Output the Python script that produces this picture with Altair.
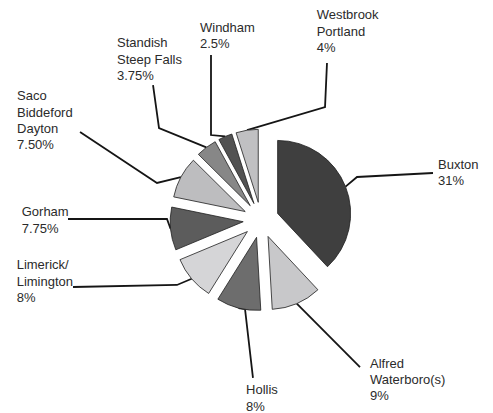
import math
import altair as alt
import pandas as pd

# ---- data -------------------------------------------------------------
names = ["Buxton", "Alfred Waterboro(s)", "Hollis", "Limerick/Limington", "Gorham",
         "Saco Biddeford Dayton", "Standish Steep Falls", "Windham", "Westbrook Portland"]
labels = ["Buxton\n31%", "Alfred\nWaterboro(s)\n9%", "Hollis\n8%", "Limerick/\nLimington\n8%",
          "Gorham\n7.75%", "Saco\nBiddeford\nDayton\n7.50%", "Standish\nSteep Falls\n3.75%",
          "Windham\n2.5%", "Westbrook\nPortland\n4%"]
values = [31, 9, 8, 8, 7.75, 7.5, 3.75, 2.5, 4]

# ---- styles / layout --------------------------------------------------
colors = ["#3f3f3f", "#c8c8ca", "#6d6d6d", "#d5d5d7", "#5c5c5c",
          "#bdbdbf", "#878787", "#525252", "#c0c0c2"]
W, H = 477, 405          # whole drawing area
CX, CY, R = 253, 212, 73  # pie centre and radius (pixels)
EXPLODE = 0.245          # slice offset, in radius units

# label anchors (radius units, y up, relative to pie centre)
label_pos = [(2.425, 0.705), (1.493, -2.021), (-0.205, -2.390), (-3.347, -0.678),
             (-3.278, 0.048), (-3.342, 1.640), (-1.973, 2.366), (-0.836, 2.582),
             (0.763, 2.747)]
# leader elbows and ends (radius units)
leader_elbow = [(1.315, 0.589), None, (-0.219, -1.219), (-1.151, -0.890),
                (-1.288, 0.014), (-1.425, 0.507), (-1.397, 1.260), (-0.685, 1.164),
                (0.877, 1.548)]
leader_end = [(2.356, 0.644), (1.356, -2.014), (-0.110, -2.164), (-2.575, -0.918),
              (-2.644, 0.014), (-2.479, 1.205), (-1.479, 1.849), (-0.685, 2.260),
              (0.904, 2.151)]

# ---- derived geometry -------------------------------------------------
total = sum(values)
rows, lines, texts = [], [], []
acc = 0.0
for i, (n, v) in enumerate(zip(names, values)):
    t0 = acc / total
    acc += v
    t1 = acc / total
    mid = (t0 + t1) / 2 * 2 * math.pi
    cx = EXPLODE * math.sin(mid)
    cy = EXPLODE * math.cos(mid)
    rows.append({"name": n, "t0": t0, "t1": t1, "cx": cx, "cy": cy})
    sx, sy = cx + math.sin(mid), cy + math.cos(mid)
    el = leader_elbow[i] if leader_elbow[i] is not None else (sx, sy)
    pts = [(sx, sy), el, leader_end[i]]
    for k, (px, py) in enumerate(pts):
        lines.append({"name": n, "k": k, "u": px, "v": py})
    texts.append({"name": n, "label": labels[i], "u": label_pos[i][0], "v": label_pos[i][1]})

slices = pd.DataFrame(rows)
leaders = pd.DataFrame(lines)
tx = pd.DataFrame(texts)

xs = alt.Scale(domain=[-CX / R, (W - CX) / R], range=[0, W], nice=False, zero=False)
ys = alt.Scale(domain=[-(H - CY) / R, CY / R], range=[H, 0], nice=False, zero=False)

arcs = alt.Chart(slices).mark_arc(radius=R, stroke="#1e1e1e", strokeWidth=0.8).encode(
    theta=alt.Theta("t0:Q", scale=alt.Scale(domain=[0, 1], range=[0, 2 * math.pi]), stack=None),
    theta2="t1:Q",
    x=alt.X("cx:Q", scale=xs, axis=None),
    y=alt.Y("cy:Q", scale=ys, axis=None),
    color=alt.Color("name:N", scale=alt.Scale(domain=names, range=colors), legend=None),
)

lead = alt.Chart(leaders).mark_line(color="#151515", strokeWidth=1.8).encode(
    x=alt.X("u:Q", scale=xs, axis=None),
    y=alt.Y("v:Q", scale=ys, axis=None),
    detail="name:N",
    order="k:Q",
)

txt = alt.Chart(tx).mark_text(align="left", baseline="alphabetic", lineBreak="\n",
                              lineHeight=16.3, font="Liberation Sans", fontSize=13,
                              color="#2b2b2b").encode(
    x=alt.X("u:Q", scale=xs, axis=None),
    y=alt.Y("v:Q", scale=ys, axis=None),
    text="label:N",
)

chart = alt.layer(lead, arcs, txt).properties(
    width=W, height=H, padding=0, autosize=alt.AutoSizeParams(type="none")
).configure_view(stroke=None)

chart.save("out.html", embed_options={"renderer": "svg", "actions": False})
